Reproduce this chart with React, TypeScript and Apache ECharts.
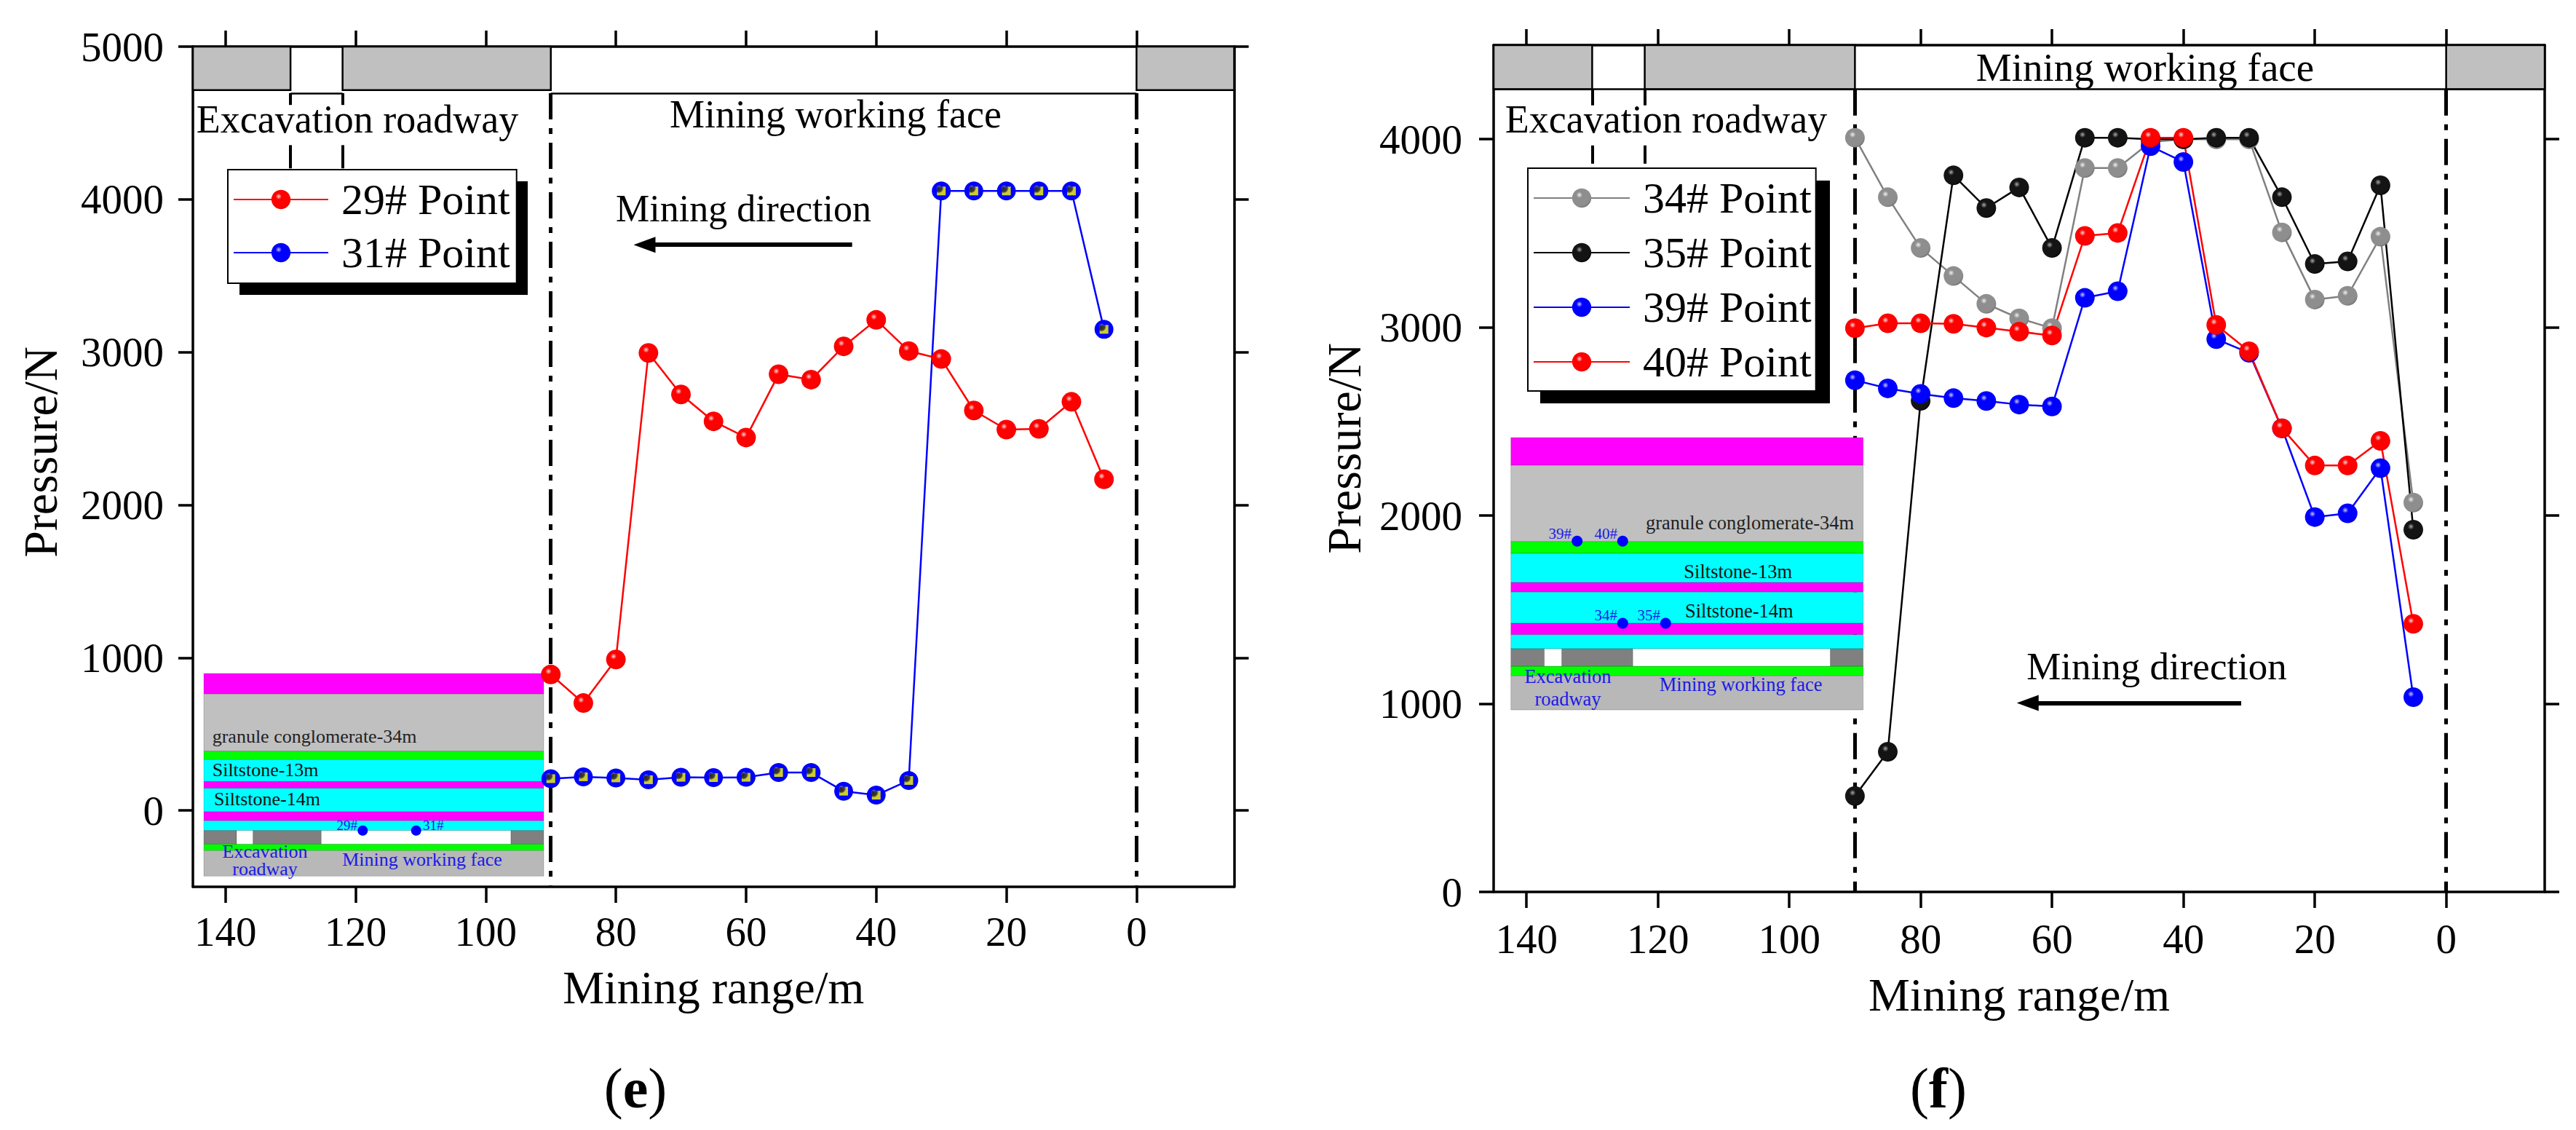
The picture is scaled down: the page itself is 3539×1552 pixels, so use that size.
import React, { useEffect, useRef } from "react";
import * as echarts from "echarts";

// ---------------- data ----------------
const miningRange = [90, 85, 80, 75, 70, 65, 60, 55, 50, 45, 40, 35, 30, 25, 20, 15, 10, 5];
const xTickValues = [140, 120, 100, 80, 60, 40, 20, 0];
const yTickValuesE = [0, 1000, 2000, 3000, 4000, 5000];
const yTickValuesF = [0, 1000, 2000, 3000, 4000];

const point29 = [890, 703, 988, 2995, 2723, 2547, 2441, 2855, 2820, 3038, 3211, 3007, 2955, 2618, 2493, 2498, 2675, 2168];
const point31 = [208, 220, 213, 201, 217, 215, 217, 248, 248, 126, 100, 196, 4055, 4055, 4055, 4055, 4055, 3149];
const point34 = [4008, 3692, 3422, 3273, 3125, 3048, 2996, 3847, 3847, 3985, 4000, 4000, 4000, 3505, 3148, 3168, 3482, 2069];
const point35 = [510, 745, 2610, 3808, 3634, 3744, 3422, 4008, 4008, 4000, 4000, 4008, 4008, 3692, 3337, 3351, 3755, 1925];
const point39 = [2719, 2676, 2647, 2624, 2609, 2590, 2580, 3157, 3192, 3963, 3879, 2938, 2865, 2464, 1992, 2012, 2252, 1035];
const point40 = [2996, 3022, 3022, 3019, 2999, 2977, 2957, 3486, 3502, 4008, 4008, 3013, 2873, 2464, 2266, 2266, 2397, 1425];

// mining geometry along the range axis (m)
const roadwayBlocks = [[145, 130], [122, 90], [0, -15]];
const roadwayEdges = [130, 122];
const faceEdges = [90, 0];

// ---------------- style helpers ----------------
const W = 3539;
const H = 1552;
const FONT = '"Liberation Serif", "Times New Roman", serif';

const ball = (hi: string, main: string, edge: string) => ({
  type: "radial",
  x: 0.38,
  y: 0.34,
  r: 0.72,
  colorStops: [
    { offset: 0, color: hi },
    { offset: 0.22, color: main },
    { offset: 0.8, color: main },
    { offset: 1, color: edge },
  ],
});
const RED = ball("#ffd8d8", "#ff0000", "#d80000");
const BLUE = ball("#c8c8ff", "#0000ff", "#0000c8");
const GRAY = ball("#f0f0f0", "#8e8e8e", "#6c6c6c");
const BLACK = ball("#a8a8a8", "#141414", "#000000");

const pairs = (ys: number[]) => miningRange.map((x, i) => [x, ys[i]]);

const AX = { color: "#000", width: 3.5 };
const plain = (v: number) => String(v);

function makeXAxes(gridIndex: number, labelMargin: number, nameGap: number) {
  const base: any = {
    type: "value",
    gridIndex,
    min: -15,
    max: 145,
    inverse: true,
    splitLine: { show: false },
    axisLine: { show: true, onZero: false, lineStyle: AX },
    axisTick: { show: true, inside: false, length: 22, lineStyle: AX, customValues: xTickValues },
  };
  return [
    {
      ...base,
      position: "bottom",
      axisLabel: { show: true, customValues: xTickValues, formatter: plain, margin: labelMargin, fontSize: 57, fontFamily: FONT, color: "#000" },
      name: "Mining range/m",
      nameLocation: "middle",
      nameGap,
      nameTextStyle: { fontSize: 64, fontFamily: FONT, color: "#000" },
    },
    { ...base, position: "top", axisLabel: { show: false } },
  ];
}

function makeYAxes(gridIndex: number, min: number, max: number, ticks: number[], labelMargin: number) {
  const base: any = {
    type: "value",
    gridIndex,
    min,
    max,
    splitLine: { show: false },
    axisLine: { show: true, onZero: false, lineStyle: AX },
    axisTick: { show: true, inside: false, length: 20, lineStyle: AX, customValues: ticks },
  };
  return [
    {
      ...base,
      position: "left",
      axisLabel: { show: true, customValues: ticks, formatter: plain, margin: labelMargin, fontSize: 57, fontFamily: FONT, color: "#000" },
    },
    { ...base, position: "right", axisLabel: { show: false } },
  ];
}

function lineSeries(name: string, ys: number[], lineColor: string, fill: any, xi: number, yi: number, extra: any = {}) {
  return {
    type: "line",
    name,
    data: pairs(ys),
    xAxisIndex: xi,
    yAxisIndex: yi,
    symbol: "circle",
    symbolSize: 27,
    showAllSymbol: true,
    lineStyle: { color: lineColor, width: 2.5 },
    itemStyle: { color: fill },
    emphasis: { disabled: true },
    z: 5,
    ...extra,
  };
}

const seg = (x0: number, y0: number, x1: number, y1: number, style: any) => [
  { coord: [x0, y0], lineStyle: style },
  { coord: [x1, y1] },
];
const DASHDOT = { color: "#000", width: 5, type: [36, 12, 8, 12] };
const THIN = { color: "#000", width: 2.5, type: "solid" };
const BRACKET = { color: "#000", width: 4, type: "solid" };
const ARROW = { color: "#000", width: 6, type: "solid" };

const arrow = (xStart: number, xEnd: number, y: number) => [
  { coord: [xStart, y], lineStyle: ARROW, symbol: "none" },
  { coord: [xEnd, y], symbol: "triangle", symbolSize: [22, 30] },
];

// ---- chart (e) annotations in data coordinates ----
const bandTopE = 5000, bandBottomE = 4715, frameE = 4695;
const markAreaE = {
  silent: true,
  z: 1,
  itemStyle: { color: "#C0C0C0", borderColor: "#000", borderWidth: 2.5 },
  data: roadwayBlocks.map(([a, b]) => [{ xAxis: a, yAxis: bandTopE }, { xAxis: b, yAxis: bandBottomE }]),
};
const markLineE = {
  silent: true,
  z: 2,
  symbol: ["none", "none"],
  label: { show: false },
  data: [
    seg(roadwayEdges[0], frameE, roadwayEdges[1], frameE, THIN),
    seg(faceEdges[0], frameE, faceEdges[1], frameE, THIN),
    ...faceEdges.map((x) => seg(x, frameE, x, -500, DASHDOT)),
    ...roadwayEdges.map((x) => seg(x, frameE, x, 4618, BRACKET)),
    ...roadwayEdges.map((x) => seg(x, 4355, x, 4203, BRACKET)),
    arrow(43.7, 75.6, 3703),
  ],
};

// ---- chart (f) annotations ----
const bandTopF = 4500, bandBottomF = 4265;
const markAreaF = {
  silent: true,
  z: 1,
  itemStyle: { color: "#C0C0C0", borderColor: "#000", borderWidth: 2.5 },
  data: roadwayBlocks.map(([a, b]) => [{ xAxis: a, yAxis: bandTopF }, { xAxis: b, yAxis: bandBottomF }]),
};
const markLineF = {
  silent: true,
  z: 2,
  symbol: ["none", "none"],
  label: { show: false },
  data: [
    seg(145, bandBottomF, -15, bandBottomF, THIN),
    ...faceEdges.map((x) => seg(x, bandBottomF, x, 0, DASHDOT)),
    ...roadwayEdges.map((x) => seg(x, bandBottomF, x, 4180, BRACKET)),
    ...roadwayEdges.map((x) => seg(x, 3967, x, 3870, BRACKET)),
    arrow(31.2, 63.7, 1004),
  ],
};

// ---------------- graphic decorations (pixel layout) ----------------
const text = (x: number, y: number, t: string, size: number, extra: any = {}, z = 30) => ({
  type: "text",
  x,
  y,
  z,
  silent: true,
  style: {
    text: t,
    fontSize: size,
    fontFamily: FONT,
    fill: "#000",
    align: "center",
    verticalAlign: "middle",
    ...extra,
  },
});
const rect = (x0: number, y0: number, x1: number, y1: number, fill: string, z: number, stroke?: string) => ({
  type: "rect",
  z,
  silent: true,
  shape: { x: x0, y: y0, width: x1 - x0, height: y1 - y0 },
  style: { fill, stroke: stroke || "rgba(0,0,0,0.18)", lineWidth: 1 },
});
const dot = (cx: number, cy: number, r: number, z: number) => ({
  type: "circle",
  z,
  silent: true,
  shape: { cx, cy, r },
  style: { fill: "#0000ff" },
});

const MAG = "#FF00FF", SIL = "#C0C0C0", GRN = "#00FF00", CYN = "#00FFFF", DRK = "#808080", LOW = "#B8B8B8";
const INK = "#1a1ae6";

function inset(x0: number, x1: number, layers: [number, number, string][], row: [number, number], rowBlocks: [number, number, string][], z: number) {
  const els: any[] = layers.map(([a, b, c]) => rect(x0, a, x1, b, c, z));
  rowBlocks.forEach(([a, b, c]) => els.push(rect(a, row[0], b, row[1], c, z)));
  return els;
}

const insetE = [
  ...inset(
    280,
    747,
    [
      [925, 953.3, MAG],
      [953.3, 1031.7, SIL],
      [1031.7, 1043.3, GRN],
      [1043.3, 1073.3, CYN],
      [1073.3, 1082.7, MAG],
      [1082.7, 1115, CYN],
      [1115, 1127.3, MAG],
      [1127.3, 1140.7, CYN],
      [1159.3, 1168.3, GRN],
      [1168.3, 1203.3, LOW],
    ],
    [1140.7, 1159.3],
    [
      [280, 325, DRK],
      [325, 347.7, "#fff"],
      [347.7, 441.4, DRK],
      [441.4, 702, "#fff"],
      [702, 747, DRK],
    ],
    0
  ),
  text(291.7, 1011.7, "granule conglomerate-34m", 26, { align: "left", fill: "#222" }, 1),
  text(291.7, 1057, "Siltstone-13m", 26, { align: "left", fill: "#111" }, 1),
  text(294, 1097.5, "Siltstone-14m", 26, { align: "left", fill: "#111" }, 1),
  dot(498.3, 1140.7, 7, 1),
  dot(571.7, 1140.7, 7, 1),
  text(491, 1133, "29#", 19, { align: "right", fill: INK }, 1),
  text(581, 1133, "31#", 19, { align: "left", fill: INK }, 1),
  text(364, 1169, "Excavation", 26, { fill: INK }, 1),
  text(364, 1193, "roadway", 26, { fill: INK }, 1),
  text(580, 1180, "Mining working face", 26, { fill: INK }, 1),
];

const ZF = 40;
const insetF = [
  ...inset(
    2075.7,
    2559.7,
    [
      [601, 639, MAG],
      [639, 744, SIL],
      [744, 760, GRN],
      [760, 800, CYN],
      [800, 813.3, MAG],
      [813.3, 856, CYN],
      [856, 871.7, MAG],
      [871.7, 891, CYN],
      [915, 928.3, GRN],
      [928.3, 975, LOW],
    ],
    [891, 915],
    [
      [2075.7, 2121.7, DRK],
      [2121.7, 2145.7, "#fff"],
      [2145.7, 2243.3, DRK],
      [2243.3, 2514.6, "#fff"],
      [2514.6, 2559.7, DRK],
    ],
    ZF
  ),
  text(2261, 718.3, "granule conglomerate-34m", 26.5, { align: "left", fill: "#222" }, ZF + 1),
  text(2313.3, 785, "Siltstone-13m", 26.5, { align: "left", fill: "#111" }, ZF + 1),
  text(2315, 839.3, "Siltstone-14m", 26.5, { align: "left", fill: "#111" }, ZF + 1),
  dot(2166.7, 743.3, 7.5, ZF + 1),
  dot(2229.3, 743.3, 7.5, ZF + 1),
  dot(2229.3, 856, 7.5, ZF + 1),
  dot(2288.3, 856, 7.5, ZF + 1),
  text(2159, 733, "39#", 21, { align: "right", fill: INK }, ZF + 1),
  text(2222, 733, "40#", 21, { align: "right", fill: INK }, ZF + 1),
  text(2222, 845, "34#", 21, { align: "right", fill: INK }, ZF + 1),
  text(2281, 845, "35#", 21, { align: "right", fill: INK }, ZF + 1),
  text(2154, 929, "Excavation", 26.5, { fill: INK }, ZF + 1),
  text(2154, 960, "roadway", 26.5, { fill: INK }, ZF + 1),
  text(2391.6, 940, "Mining working face", 26.5, { fill: INK }, ZF + 1),
];

const captions = [
  text(491, 164, "Excavation roadway", 54),
  text(1148, 157, "Mining working face", 54),
  text(1021.5, 286, "Mining direction", 52),
  text(2289, 164, "Excavation roadway", 54),
  text(2947, 92, "Mining working face", 55),
  text(2963, 915, "Mining direction", 53),
  {
    type: "text",
    x: 55,
    y: 621,
    rotation: Math.PI / 2,
    z: 30,
    silent: true,
    style: { text: "Pressure/N", fontSize: 66, fontFamily: FONT, fill: "#000", align: "center", verticalAlign: "middle" },
  },
  {
    type: "text",
    x: 1846,
    y: 616,
    rotation: Math.PI / 2,
    z: 30,
    silent: true,
    style: { text: "Pressure/N", fontSize: 66, fontFamily: FONT, fill: "#000", align: "center", verticalAlign: "middle" },
  },
  {
    type: "text",
    x: 873,
    y: 1494,
    z: 30,
    silent: true,
    style: {
      text: "{p|(}{b|e}{p|)}",
      align: "center",
      verticalAlign: "middle",
      rich: {
        p: { fontSize: 78, fontFamily: FONT, fill: "#000" },
        b: { fontSize: 78, fontFamily: FONT, fontWeight: "bold", fill: "#000" },
      },
    },
  },
  {
    type: "text",
    x: 2663,
    y: 1494,
    z: 30,
    silent: true,
    style: {
      text: "{p|(}{b|f}{p|)}",
      align: "center",
      verticalAlign: "middle",
      rich: {
        p: { fontSize: 78, fontFamily: FONT, fill: "#000" },
        b: { fontSize: 78, fontFamily: FONT, fontWeight: "bold", fill: "#000" },
      },
    },
  },
  // legend drop shadows
  { type: "rect", z: 3, silent: true, shape: { x: 329, y: 249, width: 396, height: 156 }, style: { fill: "#000" } },
  { type: "rect", z: 3, silent: true, shape: { x: 2116, y: 248, width: 398, height: 306 }, style: { fill: "#000" } },
];

const legendBase: any = {
  orient: "vertical",
  itemWidth: 130,
  itemHeight: 33,
  backgroundColor: "#fff",
  borderColor: "#000",
  borderWidth: 2,
  selectedMode: false,
  z: 10,
  textStyle: { fontFamily: FONT, fontSize: 60, color: "#000", padding: [0, 0, 0, 13] },
};

const option: any = {
  animation: false,
  backgroundColor: "#fff",
  textStyle: { fontFamily: FONT },
  grid: [
    { left: 265, top: 64, width: 1430.5, height: 1154, containLabel: false },
    { left: 2052, top: 62, width: 1444, height: 1163, containLabel: false },
  ],
  xAxis: [...makeXAxes(0, 33, 106), ...makeXAxes(1, 36, 109)],
  yAxis: [...makeYAxes(0, -500, 5000, yTickValuesE, 40), ...makeYAxes(1, 0, 4500, yTickValuesF, 43)],
  legend: [
    { ...legendBase, left: 313, top: 233, itemGap: 13, padding: [11, 9, 12, 7], data: ["29# Point", "31# Point"] },
    { ...legendBase, left: 2099, top: 231, itemWidth: 132, itemGap: 15, padding: [11, 6, 10, 7], data: ["34# Point", "35# Point", "39# Point", "40# Point"] },
  ],
  graphic: { elements: [...insetE, ...insetF, ...captions] },
  series: [
    lineSeries("29# Point", point29, "#ff0000", RED, 0, 0, { markArea: markAreaE, markLine: markLineE }),
    lineSeries("31# Point", point31, "#0000ff", BLUE, 0, 0, { symbolSize: 26 }),
    {
      type: "scatter",
      name: "31# core",
      data: pairs(point31),
      xAxisIndex: 0,
      yAxisIndex: 0,
      symbol: "rect",
      symbolSize: 12,
      itemStyle: {
        color: { type: "radial", x: 0.2, y: 0.2, r: 0.75, colorStops: [{ offset: 0, color: "#000" }, { offset: 0.55, color: "#5a5a00" }, { offset: 0.75, color: "#ffff00" }, { offset: 1, color: "#ffff00" }] },
      },
      emphasis: { disabled: true },
      silent: true,
      z: 6,
    },
    lineSeries("34# Point", point34, "#808080", GRAY, 2, 2, { markArea: markAreaF, markLine: markLineF }),
    lineSeries("35# Point", point35, "#000000", BLACK, 2, 2),
    lineSeries("39# Point", point39, "#0000ff", BLUE, 2, 2),
    lineSeries("40# Point", point40, "#ff0000", RED, 2, 2),
  ],
};

export default function App() {
  const ref = useRef<HTMLDivElement>(null);
  useEffect(() => {
    if (!ref.current) return;
    const chart = echarts.init(ref.current, null, { renderer: "svg", width: W, height: H });
    chart.setOption(option);
    return () => chart.dispose();
  }, []);
  return <div ref={ref} style={{ position: "absolute", left: 0, top: 0, width: W, height: H, background: "#fff" }} />;
}
